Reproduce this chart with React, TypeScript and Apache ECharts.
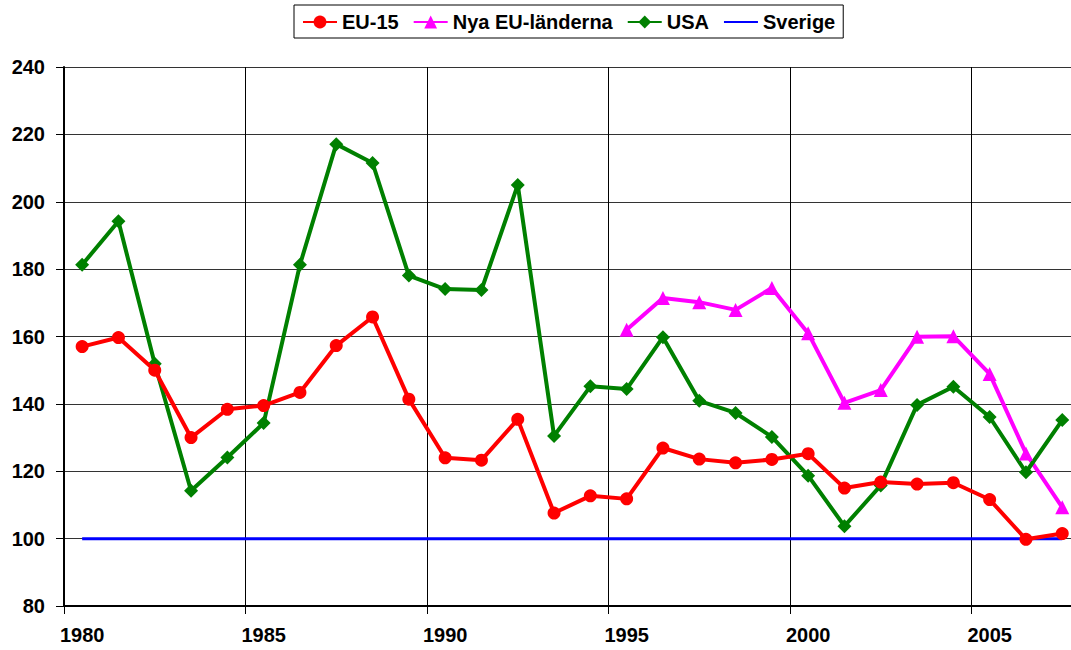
import React, { useEffect, useRef } from "react";
import * as echarts from "echarts";

const years = [
  "1980", "1981", "1982", "1983", "1984", "1985", "1986", "1987", "1988", "1989",
  "1990", "1991", "1992", "1993", "1994", "1995", "1996", "1997", "1998", "1999",
  "2000", "2001", "2002", "2003", "2004", "2005", "2006", "2007",
];

const eu15 = [
  157, 159.7, 150, 130, 138.4, 139.5, 143.4, 157.3, 165.8, 141.4,
  124, 123.3, 135.4, 107.6, 112.7, 111.8, 126.9, 123.6, 122.5, 123.5,
  125.2, 115, 116.8, 116.2, 116.6, 111.6, 99.8, 101.5,
];

const nyaEU: (number | null)[] = [
  null, null, null, null, null, null, null, null, null, null,
  null, null, null, null, null, 162, 171.4, 170.2, 167.9, 174.4,
  161, 140.3, 144.1, 159.9, 160.1, 148.9, 125.3, 109.3,
];

const usa = [
  181.3, 194.2, 151.9, 114.2, 124.1, 134.3, 181.3, 217.1, 211.5, 178.1,
  174.1, 173.8, 205, 130.5, 145.2, 144.4, 159.8, 140.9, 137.3, 130.2,
  118.7, 103.7, 115.8, 139.7, 145.1, 136.1, 119.7, 135.2,
];

const sverige = years.map(() => 100);

const seriesNames = ["EU-15", "Nya EU-länderna", "USA", "Sverige"];

export default function App() {
  const ref = useRef<HTMLDivElement>(null);

  useEffect(() => {
    if (!ref.current) return;
    const chart = echarts.init(ref.current, null, { renderer: "svg" });
    const font = "'Liberation Sans', Arial, sans-serif";
    chart.setOption({
      animation: false,
      backgroundColor: "#ffffff",
      textStyle: { fontFamily: font },
      legend: {
        top: 5,
        left: 294,
        data: seriesNames.map((n) =>
          n === "Sverige"
            ? { name: n, itemStyle: { color: "rgba(0,0,0,0)", opacity: 0, borderWidth: 0 } }
            : { name: n }
        ),
        borderColor: "#000",
        borderWidth: 1,
        padding: [7, 8, 6, 8],
        itemGap: 14,
        itemWidth: 34,
        itemHeight: 16,
        textStyle: { fontFamily: font, fontSize: 20, fontWeight: "bold", color: "#000" },
      },
      grid: {
        left: 64,
        top: 67,
        width: 1016.4,
        bottom: 44,
        containLabel: false,
        outerBoundsMode: "none",
      },
      xAxis: {
        type: "category",
        data: years,
        boundaryGap: true,
        axisLine: { lineStyle: { color: "#000", width: 2 } },
        axisTick: { show: true, interval: 4, length: 8, lineStyle: { color: "#000", width: 1 } },
        axisLabel: {
          interval: 4,
          fontFamily: font,
          fontSize: 20,
          fontWeight: "bold",
          color: "#000",
          margin: 19,
        },
        splitLine: { show: true, interval: 4, lineStyle: { color: "#000", width: 1 } },
      },
      yAxis: {
        type: "value",
        min: 80,
        max: 240,
        interval: 20,
        axisLine: { show: true, lineStyle: { color: "#000", width: 2 } },
        axisTick: { show: true, length: 8, lineStyle: { color: "#000", width: 1 } },
        axisLabel: {
          fontFamily: font,
          fontSize: 20,
          fontWeight: "bold",
          color: "#000",
          margin: 19,
        },
        splitLine: { show: true, lineStyle: { color: "#333", width: 1 } },
      },
      series: [
        {
          name: "EU-15",
          type: "line",
          data: eu15,
          symbol: "circle",
          symbolSize: 13,
          itemStyle: { color: "#ff0000" },
          lineStyle: { color: "#ff0000", width: 4 },
          z: 4,
        },
        {
          name: "Nya EU-länderna",
          type: "line",
          data: nyaEU,
          symbol: "triangle",
          symbolSize: 14,
          itemStyle: { color: "#ff00ff" },
          lineStyle: { color: "#ff00ff", width: 4 },
          z: 3,
        },
        {
          name: "USA",
          type: "line",
          data: usa,
          symbol: "diamond",
          symbolSize: 14,
          itemStyle: { color: "#008000" },
          lineStyle: { color: "#008000", width: 4 },
          z: 3,
        },
        {
          name: "Sverige",
          type: "line",
          data: sverige,
          symbol: "none",
          showSymbol: false,
          itemStyle: { color: "#0000ff" },
          lineStyle: { color: "#0000ff", width: 3 },
          z: 2,
        },
      ],
    });
    return () => chart.dispose();
  }, []);

  return <div ref={ref} style={{ width: 1071, height: 650, position: "absolute", left: 0, top: 0 }} />;
}
